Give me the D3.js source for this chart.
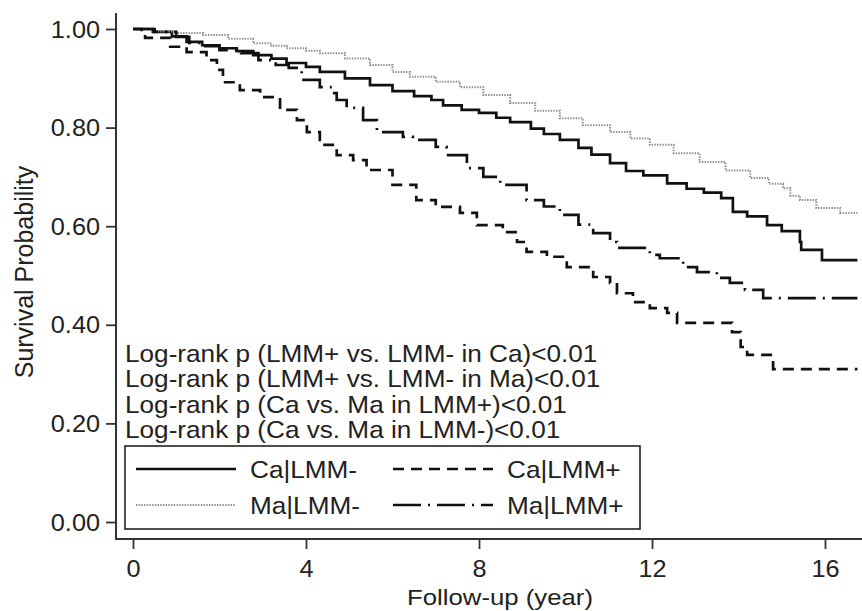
<!DOCTYPE html>
<html lang="en">
	<head>
		<meta charset="utf-8">
		<title>Survival by group</title>
		<script type="text/javascript" src="https://cdn.jsdelivr.net/npm/d3@7"></script>
		<style type="text/css">
			body { margin: 0; background: #fff; }
			text {
				font-family: "Liberation Sans", Arial, sans-serif;
				fill: #222;
			}
			.Axis line { stroke: #333; stroke-width: 1.8; }
		</style>
	</head>
	<body>
		<script type="text/javascript">

			//Width and height
			var w = 862;
			var h = 611;

			//Ca|LMM- (solid)
			var caNegTime = [0, 0.46, 0.9, 1.24, 1.6, 2.0, 2.4, 2.78, 3.2, 3.55, 4.0, 4.32, 4.9, 5.48, 6.0, 6.5, 6.9, 7.17, 7.6, 8.0, 8.4, 8.72, 9.2, 9.5, 9.87, 10.3, 10.6, 11.03, 11.4, 11.8, 12.35, 12.8, 13.2, 13.6, 13.87, 14.2, 14.66, 15.0, 15.42, 15.45, 15.93, 16.75];
			var caNegSurv = [1.0, 0.994, 0.985, 0.974, 0.967, 0.961, 0.955, 0.947, 0.940, 0.931, 0.923, 0.913, 0.900, 0.886, 0.874, 0.864, 0.856, 0.845, 0.836, 0.830, 0.820, 0.811, 0.798, 0.787, 0.775, 0.759, 0.745, 0.728, 0.712, 0.703, 0.687, 0.676, 0.668, 0.657, 0.629, 0.620, 0.602, 0.590, 0.568, 0.552, 0.531, 0.531];

			//Ma|LMM- (dotted)
			var maNegTime = [0, 0.5, 1.0, 1.62, 2.2, 2.78, 3.2, 3.55, 4.0, 4.32, 4.9, 5.48, 6.0, 6.4, 7.0, 7.56, 8.1, 8.72, 9.3, 9.87, 10.4, 11.03, 11.5, 11.95, 12.5, 13.1, 13.7, 14.27, 14.7, 15.03, 15.2, 15.42, 15.8, 16.35, 16.75];
			var maNegSurv = [1.0, 0.995, 0.992, 0.988, 0.980, 0.971, 0.966, 0.961, 0.956, 0.951, 0.940, 0.927, 0.913, 0.903, 0.893, 0.882, 0.866, 0.850, 0.834, 0.819, 0.805, 0.791, 0.778, 0.765, 0.748, 0.730, 0.713, 0.698, 0.686, 0.677, 0.662, 0.653, 0.637, 0.627, 0.627];

			//Ca|LMM+ (dashed)
			var caPosTime = [0, 0.2, 0.28, 0.86, 1.24, 1.7, 1.94, 2.08, 2.47, 2.94, 3.4, 3.79, 4.02, 4.32, 4.71, 5.09, 5.4, 6.0, 6.55, 7.0, 7.56, 7.95, 8.55, 8.88, 9.1, 9.57, 10.03, 10.64, 11.03, 11.19, 11.56, 11.95, 12.35, 12.58, 13.85, 14.05, 14.2, 14.8, 16.75];
			var caPosSurv = [1.0, 0.99, 0.982, 0.964, 0.953, 0.937, 0.917, 0.892, 0.876, 0.862, 0.836, 0.815, 0.791, 0.765, 0.744, 0.734, 0.714, 0.684, 0.653, 0.639, 0.627, 0.602, 0.588, 0.568, 0.548, 0.538, 0.517, 0.497, 0.485, 0.464, 0.446, 0.434, 0.424, 0.404, 0.385, 0.355, 0.339, 0.310, 0.310];

			//Ma|LMM+ (dash-dot)
			var maPosTime = [0, 0.5, 1.0, 1.3, 1.62, 2.0, 2.5, 2.9, 3.3, 3.6, 3.9, 4.32, 4.6, 4.71, 4.94, 5.32, 5.64, 6.24, 6.47, 7.0, 7.25, 7.72, 8.1, 8.49, 9.1, 9.5, 9.87, 10.3, 10.64, 11.03, 11.19, 11.95, 12.18, 12.72, 13.04, 13.5, 13.8, 14.15, 14.57, 16.75];
			var maPosSurv = [1.0, 0.994, 0.984, 0.972, 0.965, 0.957, 0.951, 0.937, 0.927, 0.921, 0.897, 0.882, 0.870, 0.856, 0.840, 0.815, 0.791, 0.781, 0.775, 0.761, 0.744, 0.718, 0.700, 0.684, 0.653, 0.640, 0.623, 0.603, 0.586, 0.568, 0.556, 0.542, 0.535, 0.517, 0.507, 0.495, 0.485, 0.471, 0.454, 0.454];

			var xTicks = [0, 4, 8, 12, 16];
			var yTicks = [0, 0.2, 0.4, 0.6, 0.8, 1.0];

			var pValueLines = [
				"Log-rank p (LMM+ vs. LMM- in Ca)<0.01",
				"Log-rank p (LMM+ vs. LMM- in Ma)<0.01",
				"Log-rank p (Ca vs. Ma in LMM+)<0.01",
				"Log-rank p (Ca vs. Ma in LMM-)<0.01"
			];

			//Series styles
			var series = [
				{ name: "Ca|LMM-", t: caNegTime, s: caNegSurv, color: "#111", width: 2.7, dash: null },
				{ name: "Ma|LMM-", t: maNegTime, s: maNegSurv, color: "#8c8c8c", width: 2, dash: "1.4,1.3" },
				{ name: "Ca|LMM+", t: caPosTime, s: caPosSurv, color: "#111", width: 2.7, dash: "11,7" },
				{ name: "Ma|LMM+", t: maPosTime, s: maPosSurv, color: "#111", width: 2.7, dash: "28,7,2,7" }
			];

			//Scales
			var xScale = d3.scaleLinear()
								 .domain([0, 16])
								 .range([133, 825]);

			var yScale = d3.scaleLinear()
								 .domain([0, 1])
								 .range([522, 29]);

			var fontSize = 24;
			var stretch = 1.09;

			var svg = d3.select("body")
						.append("svg")
						.attr("width", w)
						.attr("height", h);

			//Curves
			var line = d3.line()
						 .curve(d3.curveStepAfter)
						 .x(function(d) { return xScale(d[0]); })
						 .y(function(d) { return yScale(d[1]); });

			svg.selectAll("path.curve")
			   .data(series)
			   .enter()
			   .append("path")
			   .attr("class", "curve")
			   .attr("fill", "none")
			   .attr("stroke", function(d) { return d.color; })
			   .attr("stroke-width", function(d) { return d.width; })
			   .attr("stroke-dasharray", function(d) { return d.dash; })
			   .attr("d", function(d) {
			   		return line(d.t.map(function(t, i) { return [t, d.s[i]]; }));
			   });

			//Axes
			var xAxis = d3.axisBottom(xScale)
						  .tickValues(xTicks)
						  .tickSize(10)
						  .tickSizeOuter(0)
						  .tickFormat(d3.format("d"));

			var yAxis = d3.axisLeft(yScale)
						  .tickValues(yTicks)
						  .tickSize(10)
						  .tickSizeOuter(0)
						  .tickFormat(d3.format(".2f"));

			var gx = svg.append("g")
			   .classed("Axis", true)
			   .attr("transform", "translate(0,539)")
			   .call(xAxis);

			var gy = svg.append("g")
			   .classed("Axis", true)
			   .attr("transform", "translate(116,0)")
			   .call(yAxis);

			gx.select(".domain").remove();
			gy.select(".domain").remove();

			svg.append("line")
			   .attr("x1", 116).attr("x2", 862)
			   .attr("y1", 539).attr("y2", 539)
			   .attr("stroke", "#333").attr("stroke-width", 2);

			svg.append("line")
			   .attr("x1", 116).attr("x2", 116)
			   .attr("y1", 13).attr("y2", 540)
			   .attr("stroke", "#333").attr("stroke-width", 2);

			gx.selectAll(".tick text")
			  .attr("font-size", 23)
			  .attr("font-family", null)
			  .attr("dy", null)
			  .attr("y", null)
			  .attr("transform", "translate(0,38) scale(1.1,1)");

			gy.selectAll(".tick text")
			  .attr("font-size", 23)
			  .attr("font-family", null)
			  .attr("x", null)
			  .attr("dy", null)
			  .attr("transform", "translate(-16,8) scale(1.1,1)");

			//Axis titles
			svg.append("text")
			   .attr("transform", "translate(500,605) scale(1.12,1)")
			   .attr("text-anchor", "middle")
			   .attr("font-size", 23)
			   .text("Follow-up (year)");

			svg.append("text")
			   .attr("transform", "translate(33,272) rotate(-90)")
			   .attr("text-anchor", "middle")
			   .attr("font-size", 25)
			   .text("Survival Probability");

			//Log-rank notes
			svg.selectAll("text.note")
			   .data(pValueLines)
			   .enter()
			   .append("text")
			   .attr("class", "note")
			   .attr("font-size", fontSize)
			   .attr("transform", function(d, i) {
			   		return "translate(125," + (362 + i * 25.3) + ") scale(" + stretch + ",1)";
			   })
			   .text(function(d) { return d; });

			//Legend
			var legend = svg.append("g");

			legend.append("rect")
				  .attr("x", 125).attr("y", 446)
				  .attr("width", 515).attr("height", 83)
				  .attr("fill", "#fff")
				  .attr("stroke", "#222")
				  .attr("stroke-width", 1.6);

			var legendPos = [
				{ x: 136, y: 469 },
				{ x: 136, y: 505 },
				{ x: 393, y: 469 },
				{ x: 393, y: 505 }
			];

			series.forEach(function(d, i) {
				var p = legendPos[i];
				legend.append("line")
					  .attr("x1", p.x).attr("x2", p.x + 100)
					  .attr("y1", p.y).attr("y2", p.y)
					  .attr("stroke", d.color)
					  .attr("stroke-width", d.width)
					  .attr("stroke-dasharray", d.dash);
				legend.append("text")
					  .attr("font-size", fontSize)
					  .attr("transform", "translate(" + (p.x + 114) + "," + (p.y + 9) + ") scale(" + stretch + ",1)")
					  .text(d.name);
			});

		</script>
	</body>
</html>
